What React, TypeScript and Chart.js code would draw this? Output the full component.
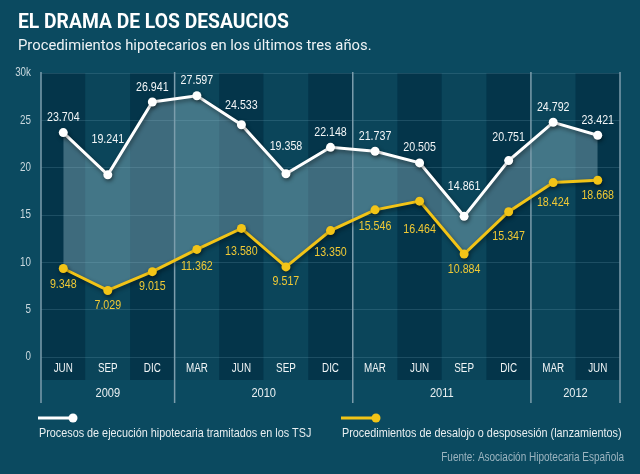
import React, { useEffect, useRef } from 'react';
import { Chart, registerables } from 'chart.js';

Chart.register(...registerables);

const months = ['JUN', 'SEP', 'DIC', 'MAR', 'JUN', 'SEP', 'DIC', 'MAR', 'JUN', 'SEP', 'DIC', 'MAR', 'JUN'];
const yearLabels = ['2009', '2010', '2011', '2012'];
const yearSpans = [3, 4, 4, 2];
const ejecuciones = [23704, 19241, 26941, 27597, 24533, 19358, 22148, 21737, 20505, 14861, 20751, 24792, 23421];
const lanzamientos = [9348, 7029, 9015, 11362, 13580, 9517, 13350, 15546, 16464, 10884, 15347, 18424, 18668];
const yTickLabels = ['0', '5', '10', '15', '20', '25', '30k'];
const seriesNames = [
  'Procesos de ejecución hipotecaria tramitados en los TSJ',
  'Procedimientos de desalojo o desposesión (lanzamientos)',
];
const titleText = 'EL DRAMA DE LOS DESAUCIOS';
const subtitleText = 'Procedimientos hipotecarios en los últimos tres años.';
const sourceText = 'Fuente: Asociación Hipotecaria Española';

const BASE = "'Liberation Sans', Arial, sans-serif";
const SX = 0.82;
const BG = '#0b4a60';
const BAND_DARK = '#04354a';
const BAND_LIGHT = '#0b455a';
const SEP_COLOR = '#7c9dac';
const WHITE = '#ffffff';
const YELLOW = '#f2c417';

const fmt = (n: number) => {
  const s = String(n);
  return s.length > 3 ? s.slice(0, -3) + '.' + s.slice(-3) : s;
};

function narrowText(
  ctx: CanvasRenderingContext2D,
  text: string,
  x: number,
  y: number,
  size: number,
  color: string,
  align: CanvasTextAlign = 'center',
  sx: number = SX
) {
  ctx.save();
  ctx.font = `${size}px ${BASE}`;
  ctx.fillStyle = color;
  ctx.textAlign = align;
  ctx.textBaseline = 'middle';
  ctx.translate(x, y);
  ctx.scale(sx, 1);
  ctx.fillText(text, 0, 0);
  ctx.restore();
}

function narrowWidth(ctx: CanvasRenderingContext2D, text: string, size: number, sx: number = SX) {
  ctx.save();
  ctx.font = `${size}px ${BASE}`;
  const w = ctx.measureText(text).width * sx;
  ctx.restore();
  return w;
}

const decorPlugin = {
  id: 'decor',
  beforeDraw(chart: any) {
    const { ctx, chartArea } = chart;
    const { left, right, top, bottom } = chartArea;
    const x = chart.scales.x;
    ctx.save();
    ctx.fillStyle = BG;
    ctx.fillRect(0, 0, chart.width, chart.height);
    const half = (right - left) / months.length / 2;
    months.forEach((_, i) => {
      const cx = x.getPixelForValue(i);
      ctx.fillStyle = i % 2 === 0 ? BAND_DARK : BAND_LIGHT;
      ctx.fillRect(cx - half, top, half * 2, bottom + 23 - top);
    });
    ctx.restore();
  },
  beforeDatasetsDraw(chart: any) {
    const { ctx, chartArea } = chart;
    const { left, right, top, bottom } = chartArea;
    const x = chart.scales.x;
    const y = chart.scales.y;
    const half = (right - left) / months.length / 2;
    ctx.save();
    ctx.strokeStyle = SEP_COLOR;
    ctx.lineWidth = 1.5;
    let idx = 0;
    const bounds: number[] = [x.getPixelForValue(0) - half];
    yearSpans.forEach((s) => {
      idx += s;
      bounds.push(x.getPixelForValue(idx - 1) + half);
    });
    bounds.forEach((bx) => {
      ctx.beginPath();
      ctx.moveTo(bx, top - 1);
      ctx.lineTo(bx, bottom + 46);
      ctx.stroke();
    });
    ctx.restore();
    yearLabels.forEach((yl, i) => {
      narrowText(ctx, yl, (bounds[i] + bounds[i + 1]) / 2, bottom + 36, 13.5, '#e9eff1');
    });
    months.forEach((m, i) => {
      narrowText(ctx, m, x.getPixelForValue(i), bottom + 12, 12, '#f2f6f7');
    });
    yTickLabels.forEach((t, i) => {
      narrowText(ctx, t, 31, y.getPixelForValue(i * 5000), 12, '#c9d8de', 'right');
    });
  },
  beforeDatasetDraw(chart: any) {
    const ctx = chart.ctx;
    ctx.save();
    ctx.shadowColor = 'rgba(0,0,0,0.45)';
    ctx.shadowBlur = 4;
    ctx.shadowOffsetY = 2;
    ctx.shadowOffsetX = 1;
  },
  afterDatasetDraw(chart: any) {
    chart.ctx.restore();
  },
  afterDatasetsDraw(chart: any) {
    const { ctx } = chart;
    [0, 1].forEach((di) => {
      const meta = chart.getDatasetMeta(di);
      const pts = meta.data;
      const values = di === 0 ? ejecuciones : lanzamientos;
      const above = di === 0;
      const color = above ? '#f3f6f7' : '#f0c935';
      pts.forEach((p: any, i: number) => {
        const label = fmt(values[i]);
        const hw = narrowWidth(ctx, label, 13) / 2;
        const ys: number[] = [p.y];
        if (i > 0) {
          const q = pts[i - 1];
          const t = Math.min(1, hw / (p.x - q.x));
          ys.push(p.y + (q.y - p.y) * t);
        }
        if (i < pts.length - 1) {
          const q = pts[i + 1];
          const t = Math.min(1, hw / (q.x - p.x));
          ys.push(p.y + (q.y - p.y) * t);
        }
        if (above) {
          const b = Math.min(p.y - 9, Math.min(...ys) - 3);
          narrowText(ctx, label, p.x, b - 6, 13, color);
        } else {
          const tp = Math.max(p.y + 9, Math.max(...ys) + 3);
          narrowText(ctx, label, p.x, tp + 6, 13, color);
        }
      });
    });
  },
  afterDraw(chart: any) {
    const { ctx } = chart;
    ctx.save();
    ctx.textAlign = 'left';
    ctx.textBaseline = 'alphabetic';
    ctx.fillStyle = '#ffffff';
    ctx.font = `bold 19.3px Roboto, 'Open Sans', sans-serif`;
    ctx.fillText(titleText, 18, 28);
    ctx.fillStyle = '#eef3f5';
    ctx.font = `14.8px Roboto, 'Open Sans', sans-serif`;
    ctx.fillText(subtitleText, 18, 50);

    const legendItems = [
      { color: WHITE, x: 38, name: seriesNames[0] },
      { color: YELLOW, x: 341, name: seriesNames[1] },
    ];
    legendItems.forEach((it) => {
      ctx.strokeStyle = it.color;
      ctx.fillStyle = it.color;
      ctx.lineWidth = 3;
      ctx.beginPath();
      ctx.moveTo(it.x, 418);
      ctx.lineTo(it.x + 35, 418);
      ctx.stroke();
      ctx.beginPath();
      ctx.arc(it.x + 35, 418, 4.5, 0, Math.PI * 2);
      ctx.fill();
      narrowText(ctx, it.name, it.x + 1, 433, 13.2, '#e8eef0', 'left');
    });
    ctx.restore();
    narrowText(ctx, sourceText, 624, 458, 12.2, '#9db5c0', 'right');
  },
};

export default function App() {
  const ref = useRef<HTMLCanvasElement>(null);
  useEffect(() => {
    if (!ref.current) return;
    const chart = new Chart(ref.current, {
      type: 'line',
      data: {
        labels: months,
        datasets: [
          {
            label: seriesNames[0],
            data: ejecuciones,
            borderColor: WHITE,
            backgroundColor: 'rgba(165,205,215,0.36)',
            borderWidth: 3,
            pointRadius: 4.5,
            pointBackgroundColor: WHITE,
            pointBorderWidth: 0,
            tension: 0,
            fill: '+1',
          },
          {
            label: seriesNames[1],
            data: lanzamientos,
            borderColor: YELLOW,
            backgroundColor: YELLOW,
            borderWidth: 3,
            pointRadius: 4.5,
            pointBackgroundColor: YELLOW,
            pointBorderWidth: 0,
            tension: 0,
            fill: false,
          },
        ],
      },
      options: {
        responsive: false,
        animation: false,
        devicePixelRatio: 1,
        layout: { padding: { top: 73, right: 20, left: 0, bottom: 0 } },
        scales: {
          x: {
            type: 'category',
            offset: true,
            grid: { display: false },
            border: { display: false },
            ticks: { display: false },
            afterFit: (s: any) => {
              s.height = 117;
            },
          },
          y: {
            min: 0,
            max: 30000,
            grid: { color: 'rgba(130,180,200,0.2)', drawTicks: false, lineWidth: 1 },
            border: { display: false },
            ticks: { stepSize: 5000, display: false },
            afterFit: (s: any) => {
              s.width = 41;
            },
          },
        },
        plugins: {
          legend: { display: false },
          tooltip: { enabled: false },
          filler: { drawTime: 'beforeDatasetsDraw' },
        },
      },
      plugins: [decorPlugin],
    } as any);
    return () => chart.destroy();
  }, []);
  return (
    <canvas
      ref={ref}
      width={640}
      height={474}
      style={{ position: 'absolute', left: 0, top: 0, display: 'block', background: BG }}
    />
  );
}
